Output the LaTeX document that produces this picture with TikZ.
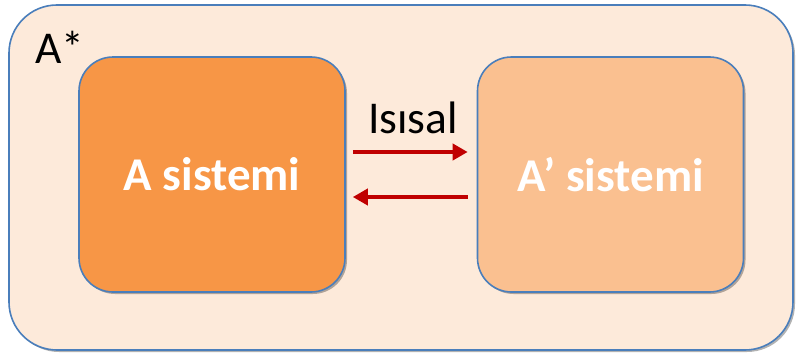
\documentclass[tikz,border=0pt]{standalone}
\usepackage{fontspec}
\setmainfont{Carlito}
\usetikzlibrary{arrows.meta,shadows}
\definecolor{outerfill}{HTML}{FDEADA}
\definecolor{edgeblue}{HTML}{4A7EBB}
\definecolor{boxA}{HTML}{F79646}
\definecolor{boxB}{HTML}{FAC090}
\definecolor{arrowred}{HTML}{C00000}
\tikzset{
  frame/.style={draw=edgeblue,line width=1.6pt,rounded corners=48pt,fill=outerfill,
    drop shadow={shadow xshift=2pt,shadow yshift=-2pt,opacity=0.3,fill=black}},
  sysbox/.style={draw=edgeblue,line width=1.6pt,rounded corners=34pt,
    minimum width=266pt,minimum height=235pt,inner sep=0pt,
    text=white,font=\fontsize{47}{56}\selectfont\bfseries,
    drop shadow={shadow xshift=2pt,shadow yshift=-2pt,opacity=0.3,fill=black}},
  flow/.style={draw=arrowred,line width=4pt,-{Triangle[length=15pt,width=16pt]}},
  lbl/.style={font=\fontsize{45.5}{54}\selectfont,inner sep=0pt,anchor=base}
}
\begin{document}
\begin{tikzpicture}[x=1pt,y=-1pt]
\useasboundingbox (0,0) rectangle (798,356);
\path[frame] (9,5) rectangle (793,350);
\node[lbl,anchor=base west] (astar) at (35,63) {A*};
\node[sysbox,fill=boxA] (A) at (212,174.5) {A sistemi};
\node[sysbox,fill=boxB] (B) at (610.5,174.5) {A’ sistemi};
\draw[flow,shorten <=7pt,shorten >=9pt] ([yshift=22.5pt]A.east) -- ([yshift=22.5pt]B.west);
\draw[flow,shorten <=9pt,shorten >=7pt] ([yshift=-22.5pt]B.west) -- ([yshift=-22.5pt]A.east);
\node[lbl] (heat) at (413,133) {Isısal};
\end{tikzpicture}
\end{document}
